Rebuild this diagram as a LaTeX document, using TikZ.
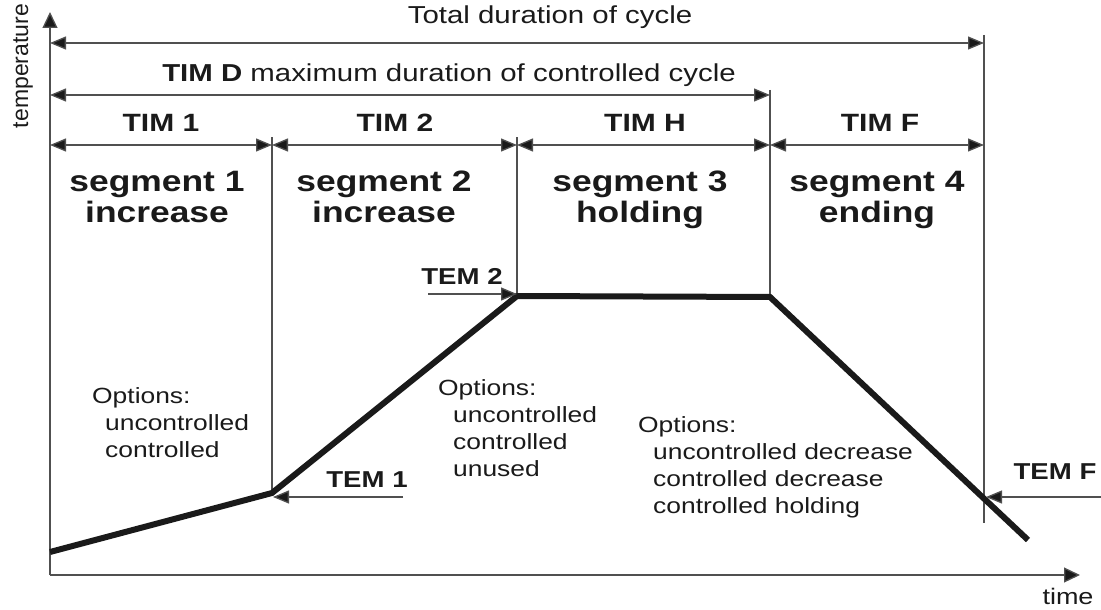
\documentclass[tikz,border=0pt]{standalone}
\usepackage{fontspec}
\setmainfont{Liberation Sans}[FakeStretch=1.2]
\newfontfamily\plainfont{Liberation Sans}
\usetikzlibrary{arrows.meta}
\definecolor{ink}{HTML}{1A1A1A}
\definecolor{thin}{HTML}{505050}
\tikzset{
  thinline/.style={draw=thin, line width=1.3pt},
  head/.style={-{Triangle[length=16pt,width=13pt,fill=ink]}},
  dim/.style={thinline, {Triangle[length=16pt,width=13pt,fill=ink]}-{Triangle[length=16pt,width=13pt,fill=ink]}},
  curve/.style={draw=ink, line width=6pt},
  lbl/.style={inner sep=0pt, text=ink, font=\fontsize{24.5}{27}\selectfont},
  blbl/.style={inner sep=0pt, text=ink, font=\fontsize{25}{27}\selectfont\bfseries},
  temlbl/.style={inner sep=0pt, text=ink, font=\fontsize{23}{27}\selectfont\bfseries},
  seglbl/.style={inner sep=0pt, text=ink, align=center, anchor=north, font=\fontsize{29.5}{31}\selectfont\bfseries},
  opt/.style={inner sep=0pt, text=ink, anchor=base west, font=\fontsize{22}{27}\selectfont}
}
\begin{document}
\begin{tikzpicture}[x=1pt,y=-1pt]
\useasboundingbox (0,0) rectangle (1101,610);
% axes
\coordinate (O) at (50,575);
\coordinate (Ytop) at (50,12);
\coordinate (Xend) at (1080,575);
\draw[thinline, -{Triangle[length=16pt,width=15pt,fill=ink]}] (O) -- (Ytop);
\draw[thinline, -{Triangle[length=16pt,width=15pt,fill=ink]}] (O) -- (Xend);
\node[inner sep=0pt, text=ink, rotate=90, font=\plainfont\fontsize{23}{27}\selectfont] (temp) at (23,66) {temperature};
\node[lbl, font=\fontsize{22.5}{27}\selectfont] (time) at (1068,596) {time};
% vertical markers
\coordinate (v1t) at (272,137); \coordinate (v1b) at (272,493);
\coordinate (v2t) at (517,137); \coordinate (v2b) at (517,296);
\coordinate (v3t) at (770,90);  \coordinate (v3b) at (770,297);
\coordinate (v4t) at (984,35);  \coordinate (v4b) at (984,523);
\draw[thinline] (v1t) -- (v1b);
\draw[thinline] (v2t) -- (v2b);
\draw[thinline] (v3t) -- (v3b);
\draw[thinline] (v4t) -- (v4b);
% dimension rows
\coordinate (r1a) at (50,43);  \coordinate (r1b) at (984,43);
\coordinate (r2a) at (50,95);  \coordinate (r2b) at (770,95);
\coordinate (r3a) at (50,145); \coordinate (r3b) at (272,145);
\coordinate (r3c) at (517,145); \coordinate (r3d) at (770,145); \coordinate (r3e) at (984,145);
\draw[dim] (r1a) -- (r1b);
\draw[dim] (r2a) -- (r2b);
\draw[dim] (r3a) -- (r3b);
\draw[dim] (r3b) -- (r3c);
\draw[dim] (r3c) -- (r3d);
\draw[dim] (r3d) -- (r3e);
\node[lbl] (total) at (550,17) {Total duration of cycle};
\node[lbl] (timd) at (449,75) {\textbf{TIM D} maximum duration of controlled cycle};
\node[blbl] (tim1) at (161,123) {TIM 1};
\node[blbl] (tim2) at (395,123) {TIM 2};
\node[blbl] (timh) at (645,123) {TIM H};
\node[blbl] (timf) at (880,123) {TIM F};
% segment labels
\node[seglbl] (s1) at (157,171) {segment 1\\increase};
\node[seglbl] (s2) at (384,171) {segment 2\\increase};
\node[seglbl] (s3) at (640,171) {segment 3\\holding};
\node[seglbl] (s4) at (877,171) {segment 4\\ending};
% temperature curve
\coordinate (A) at (50,552);
\coordinate (B) at (272,493);
\coordinate (C) at (517,296);
\coordinate (D) at (770,297);
\coordinate (E) at (1028,540);
\draw[curve] (A) -- (B) -- (C) -- (D) -- (E);
% TEM arrows
\coordinate (t1s) at (403,497); \coordinate (t1e) at (273,497);
\coordinate (t2s) at (428,294); \coordinate (t2e) at (517,294);
\coordinate (tfs) at (1101,497); \coordinate (tfe) at (986,497);
\draw[thinline, head] (t1s) -- (t1e);
\draw[thinline, head] (t2s) -- (t2e);
\draw[thinline, head] (tfs) -- (tfe);
\node[temlbl] (tem1) at (367,480) {TEM 1};
\node[temlbl] (tem2) at (462,276) {TEM 2};
\node[temlbl] (temf) at (1055,472) {TEM F};
% options
\node[opt] (o1a) at (92,403) {Options:};
\node[opt] (o1b) at (105,430) {uncontrolled};
\node[opt] (o1c) at (105,457) {controlled};
\node[opt] (o2a) at (438,395) {Options:};
\node[opt] (o2b) at (453,422) {uncontrolled};
\node[opt] (o2c) at (453,449) {controlled};
\node[opt] (o2d) at (453,476) {unused};
\node[opt] (o3a) at (638,432) {Options:};
\node[opt] (o3b) at (653,459) {uncontrolled decrease};
\node[opt] (o3c) at (653,486) {controlled decrease};
\node[opt] (o3d) at (653,513) {controlled holding};
\end{tikzpicture}
\end{document}
